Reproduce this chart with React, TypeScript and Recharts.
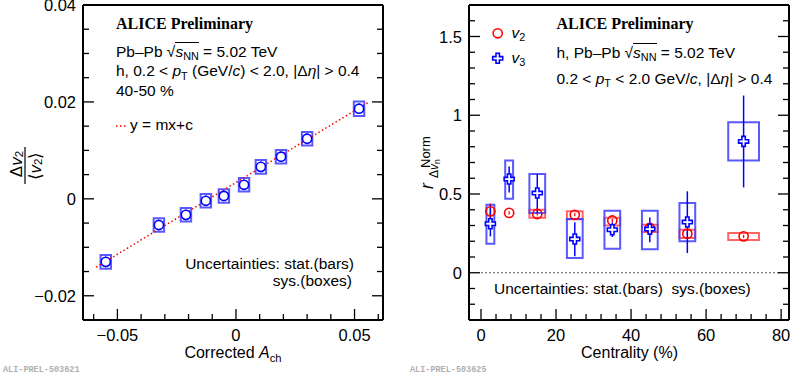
import React from 'react'
import { ComposedChart, Scatter, XAxis, YAxis, ErrorBar, ReferenceArea, ReferenceLine } from 'recharts'

const SANS = '"Liberation Sans", Arial, Helvetica, sans-serif'
const SERIF = '"Liberation Serif", "Times New Roman", serif'
const MONO = '"Liberation Mono", "DejaVu Sans Mono", monospace'
const BLUE = '#0000ff'
const RED = '#ff0000'
const BOX_BLUE = '#3c3cff'
const BOX_RED = '#ff4a4a'

// left: Δv2/<v2> vs corrected A_ch, 40-50 %
const ACH       = [-0.0549, -0.0325, -0.0211, -0.0127, -0.0051, 0.0034, 0.0105, 0.0190, 0.0300, 0.0519]
const DV2       = [-0.0130, -0.0054, -0.0033, -0.0004, 0.0006, 0.0029, 0.0066, 0.0087, 0.0124, 0.0186]
const DV2_STAT  = [0.0011, 0.0011, 0.0011, 0.0011, 0.0011, 0.0011, 0.0011, 0.0011, 0.0011, 0.0011]
const ACH_SYS   = [0.0022, 0.0022, 0.0022, 0.0022, 0.0022, 0.0022, 0.0022, 0.0022, 0.0022, 0.0022]
const DV2_SYS   = [0.0014, 0.0014, 0.0014, 0.0014, 0.0014, 0.0014, 0.0014, 0.0014, 0.0014, 0.0015]
// fitted y = mx+c, end points
const FIT = [{ x: -0.059, y: -0.0141 }, { x: 0.0558, y: 0.0199 }]

// right: r_norm vs centrality
const CENT       = [2.5, 7.5, 15, 25, 35, 45, 55, 70]
const CENT_HW    = [1.05, 1.05, 2.1, 2.1, 2.1, 2.1, 2.1, 4.1]
const V2_R       = [0.39, 0.38, 0.373, 0.368, 0.332, 0.284, 0.248, 0.231]
const V2_STAT    = [0.05, 0.01, 0.01, 0.01, 0.01, 0.01, 0.01, 0.01]
const V2_SYS_LO  = [null, null, 0.35, 0.34, 0.30, 0.259, 0.22, 0.208]
const V2_SYS_HI  = [null, null, 0.40, 0.39, 0.35, 0.305, 0.273, 0.252]
const V3_R       = [0.311, 0.595, 0.506, 0.214, 0.273, 0.277, 0.322, 0.834]
const V3_STAT_LO = [0.08, 0.085, 0.126, 0.11, 0.046, 0.084, 0.197, 0.292]
const V3_STAT_HI = [0.12, 0.08, 0.121, 0.106, 0.047, 0.074, 0.195, 0.291]
const V3_SYS_LO  = [0.184, 0.47, 0.38, 0.093, 0.152, 0.15, 0.2, 0.712]
const V3_SYS_HI  = [0.432, 0.713, 0.627, 0.341, 0.394, 0.394, 0.443, 0.955]
const ZERO_LINE  = [{ x: 0, y: 0 }, { x: 80, y: 0 }]

// ticks (ROOT style: majors labelled, minors inside)
const L_X_TICKS = [-0.06, -0.05, -0.04, -0.03, -0.02, -0.01, 0, 0.01, 0.02, 0.03, 0.04, 0.05, 0.06]
const L_X_MAJOR = [-0.05, 0, 0.05]
const L_Y_TICKS = [-0.02, -0.015, -0.01, -0.005, 0, 0.005, 0.01, 0.015, 0.02, 0.025, 0.03, 0.035, 0.04]
const L_Y_MAJOR = [-0.02, 0, 0.02, 0.04]
const R_X_TICKS = [0, 4, 8, 12, 16, 20, 24, 28, 32, 36, 40, 44, 48, 52, 56, 60, 64, 68, 72, 76, 80]
const R_X_MAJOR = [0, 20, 40, 60, 80]
const R_Y_TICKS = [-0.2, -0.1, 0, 0.1, 0.2, 0.3, 0.4, 0.5, 0.6, 0.7, 0.8, 0.9, 1, 1.1, 1.2, 1.3, 1.4, 1.5, 1.6]
const R_Y_MAJOR = [0, 0.5, 1, 1.5]

const leftPts = ACH.map((x, i) => ({ x, y: DV2[i], err: DV2_STAT[i] }))
const v2Pts = CENT.map((x, i) => ({ x, y: V2_R[i], err: V2_STAT[i] }))
const v3Pts = CENT.map((x, i) => ({ x, y: V3_R[i], err: [V3_STAT_LO[i], V3_STAT_HI[i]] }))

const fmt = (v: number) => (v < 0 ? '\u2212' : '') + String(Math.abs(v))

function makeTick(side: string, majors: number[], label: boolean) {
  return (p: any) => {
    const v = p.payload.value
    const major = majors.some((m) => Math.abs(m - v) < 1e-9)
    const len = major ? 11 : 6
    const { x, y } = p
    const d =
      side === 'bottom' ? [x, y, x, y - len]
      : side === 'top' ? [x, y, x, y + len]
      : side === 'left' ? [x, y, x + len, y]
      : [x, y, x - len, y]
    return (
      <g>
        <line x1={d[0]} y1={d[1]} x2={d[2]} y2={d[3]} stroke="#000" strokeWidth={1.3} />
        {label && major && (side === 'bottom'
          ? <text x={x} y={y + 21} textAnchor="middle" fontSize={16.5} fontFamily={SANS} fill="#000">{fmt(v)}</text>
          : <text x={x - 7} y={y + 6} textAnchor="end" fontSize={16.5} fontFamily={SANS} fill="#000">{fmt(v)}</text>)}
      </g>
    )
  }
}

const AXIS = { stroke: '#000', strokeWidth: 2 }

// axes get size 1 (recharts skips drawing a 0-sized axis); margins are 1px smaller to compensate
function axes(xDom: number[], yDom: number[], xt: number[], xm: number[], yt: number[], ym: number[]) {
  const common = { type: 'number' as const, allowDataOverflow: true, interval: 0 as const, tickSize: 0, tickMargin: 0, tickLine: false, axisLine: AXIS }
  return [
    <XAxis key="xb" dataKey="x" domain={xDom} ticks={xt} height={1} tick={makeTick('bottom', xm, true)} {...common} />,
    <XAxis key="xt" xAxisId="top" orientation="top" domain={xDom} ticks={xt} height={1} tick={makeTick('top', xm, false)} {...common} />,
    <YAxis key="yl" domain={yDom} ticks={yt} width={1} tick={makeTick('left', ym, true)} {...common} />,
    <YAxis key="yr" yAxisId="right" orientation="right" domain={yDom} ticks={yt} width={1} tick={makeTick('right', ym, false)} {...common} />,
  ]
}

const circle = (color: string, fill: string) => (p: any) => (
  <circle cx={p.cx} cy={p.cy} r={4.6} fill={fill} stroke={color} strokeWidth={1.6} />
)

const cross = (p: any) => {
  const { cx: x, cy: y } = p
  const L = 5, a = 1.7
  const d = `M${x - a},${y - L}H${x + a}V${y - a}H${x + L}V${y + a}H${x + a}V${y + L}H${x - a}V${y + a}H${x - L}V${y - a}H${x - a}Z`
  return <path d={d} fill="#fff" stroke={BLUE} strokeWidth={1.6} />
}

function LeftPanel() {
  return (
    <ComposedChart width={395} height={380} margin={{ top: 4, right: 11, bottom: 59, left: 82 }}>
      {axes([-0.0645, 0.062], [-0.025, 0.04], L_X_TICKS, L_X_MAJOR, L_Y_TICKS, L_Y_MAJOR)}
      <ReferenceLine segment={FIT} stroke={RED} strokeWidth={1.5} strokeDasharray="1.5 2.5" />
      {ACH.map((x, i) => (
        <ReferenceArea key={i} x1={x - ACH_SYS[i]} x2={x + ACH_SYS[i]} y1={DV2[i] - DV2_SYS[i]} y2={DV2[i] + DV2_SYS[i]}
          fill="none" fillOpacity={0} stroke={BOX_BLUE} strokeWidth={2} strokeOpacity={0.85} />
      ))}
      <Scatter data={leftPts} dataKey="y" isAnimationActive={false} shape={circle(BLUE, '#fff')}>
        <ErrorBar dataKey="err" direction="y" width={0} stroke={BLUE} strokeWidth={1.3} />
      </Scatter>
    </ComposedChart>
  )
}

function RightPanel() {
  return (
    <ComposedChart width={391} height={380} margin={{ top: 4, right: 1, bottom: 59, left: 68 }}>
      {axes([-3.2, 82.1], [-0.3, 1.7], R_X_TICKS, R_X_MAJOR, R_Y_TICKS, R_Y_MAJOR)}
      <ReferenceLine segment={ZERO_LINE} stroke="#555" strokeWidth={1} strokeDasharray="2 2" />
      {CENT.map((x, i) => V2_SYS_LO[i] == null ? null : (
        <ReferenceArea key={'r' + i} x1={x - CENT_HW[i]} x2={x + CENT_HW[i]} y1={V2_SYS_LO[i] as number} y2={V2_SYS_HI[i] as number}
          fill="none" fillOpacity={0} stroke={BOX_RED} strokeWidth={2} strokeOpacity={0.85} />
      ))}
      {CENT.map((x, i) => (
        <ReferenceArea key={'b' + i} x1={x - CENT_HW[i]} x2={x + CENT_HW[i]} y1={V3_SYS_LO[i]} y2={V3_SYS_HI[i]}
          fill="none" fillOpacity={0} stroke={BOX_BLUE} strokeWidth={2} strokeOpacity={0.85} />
      ))}
      <Scatter data={v2Pts} dataKey="y" isAnimationActive={false} shape={circle(RED, 'none')}>
        <ErrorBar dataKey="err" direction="y" width={0} stroke={RED} strokeWidth={1.3} />
      </Scatter>
      <Scatter data={v3Pts} dataKey="y" isAnimationActive={false} shape={cross}>
        <ErrorBar dataKey="err" direction="y" width={0} stroke={BLUE} strokeWidth={1.5} />
      </Scatter>
    </ComposedChart>
  )
}

function Txt({ x, y, size = 15.5, serif = false, bold = false, anchor = 'start', children }: any) {
  const shift = anchor === 'end' ? 'translateX(-100%)' : anchor === 'middle' ? 'translateX(-50%)' : undefined
  return (
    <div style={{
      position: 'absolute', left: x, top: y - size * 0.845, fontSize: size, lineHeight: `${size}px`,
      fontFamily: serif ? SERIF : SANS, fontWeight: bold ? 'bold' : 'normal', whiteSpace: 'pre',
      transform: shift, color: '#000',
    }}>
      {children}
    </div>
  )
}

const Sub = ({ children }: any) => <span style={{ fontSize: '0.7em', position: 'relative', top: '0.3em' }}>{children}</span>
const Sqrt = ({ children }: any) => (
  <>
    <span>√</span>
    <span style={{ borderTop: '1px solid #000' }}>{children}</span>
  </>
)

export default function App() {
  return (
    <div style={{ position: 'absolute', left: 0, top: 0, width: 791, height: 380, background: '#fff', overflow: 'hidden' }}>
      <div style={{ position: 'absolute', left: 0, top: 0 }}><LeftPanel /></div>
      <div style={{ position: 'absolute', left: 400, top: 0 }}><RightPanel /></div>

      {/* left panel text */}
      <Txt x={116} y={29.5} size={16} serif bold>ALICE Preliminary</Txt>
      <Txt x={116} y={57}>{'Pb–Pb '}<Sqrt><i>s</i><Sub>NN</Sub></Sqrt>{' = 5.02 TeV'}</Txt>
      <Txt x={116} y={76.5}>{'h, 0.2 < '}<i>p</i><Sub>T</Sub>{' (GeV/'}<i>c</i>{') < 2.0, |Δ'}<i>η</i>{'| > 0.4'}</Txt>
      <Txt x={116} y={96}>40-50 %</Txt>
      <Txt x={130} y={130.5}>y = mx+c</Txt>
      <Txt x={354} y={269} anchor="end">Uncertainties: stat.(bars)</Txt>
      <Txt x={352} y={286} anchor="end">sys.(boxes)</Txt>
      <Txt x={233} y={359} size={16} anchor="middle">{'Corrected '}<i>A</i><Sub>ch</Sub></Txt>

      {/* right panel text */}
      <Txt x={556.5} y={29.3} size={16} serif bold>ALICE Preliminary</Txt>
      <Txt x={556.5} y={58}>{'h, Pb–Pb '}<Sqrt><i>s</i><Sub>NN</Sub></Sqrt>{' = 5.02 TeV'}</Txt>
      <Txt x={556.5} y={84}>{'0.2 < '}<i>p</i><Sub>T</Sub>{' < 2.0 GeV/'}<i>c</i>{', |Δ'}<i>η</i>{'| > 0.4'}</Txt>
      <Txt x={511.5} y={38}><i>v</i><Sub>2</Sub></Txt>
      <Txt x={511.5} y={63}><i>v</i><Sub>3</Sub></Txt>
      <Txt x={494} y={294}>{'Uncertainties: stat.(bars)  sys.(boxes)'}</Txt>
      <Txt x={629.5} y={359} size={16} anchor="middle">Centrality (%)</Txt>

      <div style={{ position: 'absolute', left: 3, top: 365, fontFamily: MONO, fontSize: 8.5, fontWeight: 'bold', color: '#b0b0b0' }}>ALI-PREL-503621</div>
      <div style={{ position: 'absolute', left: 410, top: 365, fontFamily: MONO, fontSize: 8.5, fontWeight: 'bold', color: '#b0b0b0' }}>ALI-PREL-503625</div>

      <svg width={791} height={380} style={{ position: 'absolute', left: 0, top: 0, pointerEvents: 'none' }}>
        {/* fit legend */}
        <line x1={116} y1={126} x2={127} y2={126} stroke={RED} strokeWidth={1.5} strokeDasharray="1.5 2.5" />
        {/* v2 / v3 legend markers */}
        <circle cx={497.7} cy={33.3} r={4.6} fill="none" stroke={RED} strokeWidth={1.6} />
        {cross({ cx: 497.7, cy: 58.3 })}

        {/* left y title: Δv2 / <v2> */}
        <g transform="translate(25,184) rotate(-90)" fontFamily={SANS} fill="#000">
          <line x1={0} y1={0} x2={37} y2={0} stroke="#000" strokeWidth={1.2} />
          <text x={20} y={-3.5} textAnchor="middle" fontSize={17}>Δ<tspan fontStyle="italic">v</tspan><tspan fontSize={11.5} dy={1}>2</tspan></text>
          <text x={18} y={15.5} textAnchor="middle" fontSize={17}>⟨<tspan fontStyle="italic">v</tspan><tspan fontSize={11.5} dy={1}>2</tspan><tspan dy={-1}>⟩</tspan></text>
        </g>

        {/* right y title: r^Norm_{Δvn} */}
        <g transform="translate(433,189) rotate(-90)" fontFamily={SANS} fill="#000">
          <text x={0} y={0} fontSize={18} fontStyle="italic">r</text>
          <text x={21} y={-3} fontSize={13}>Norm</text>
          <text x={11} y={5} fontSize={12}>Δ<tspan fontStyle="italic">v</tspan><tspan fontSize={8.5} dy={2}>n</tspan></text>
        </g>
      </svg>
    </div>
  )
}
